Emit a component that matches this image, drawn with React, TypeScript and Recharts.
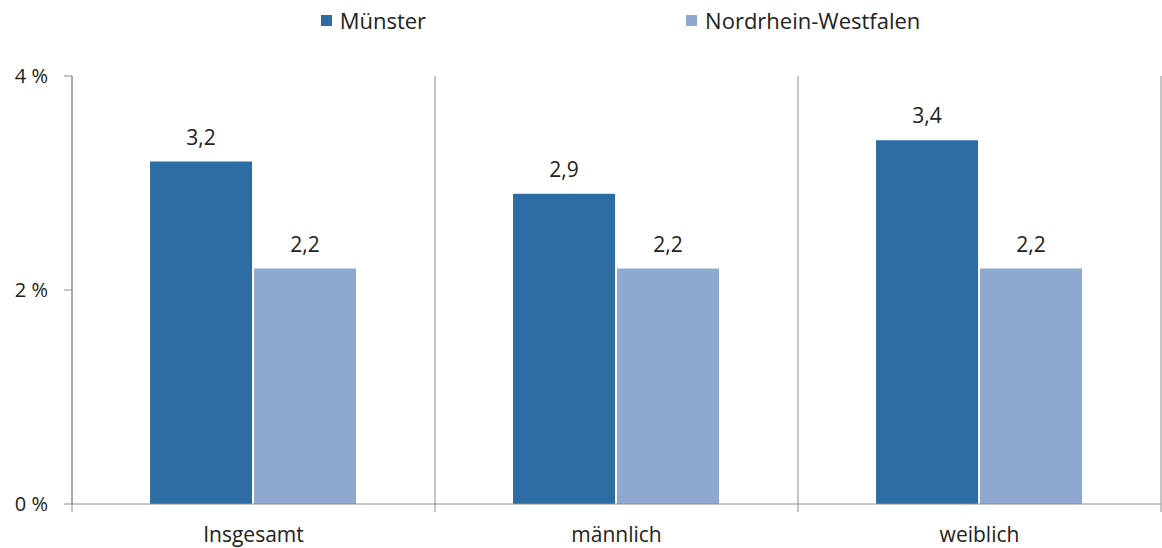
import React from "react";
import {
  BarChart,
  Bar,
  XAxis,
  YAxis,
  Legend,
  LabelList,
  ReferenceLine,
} from "recharts";

const categories = ["Insgesamt", "männlich", "weiblich"];
const muenster = [3.2, 2.9, 3.4];
const nrw = [2.2, 2.2, 2.2];
const yTicks = [0, 2, 4];
const dividers = [0, 1, 2, 3];

const data = categories.map((name, i) => ({
  name,
  slot: i + 0.5,
  muenster: muenster[i],
  nrw: nrw[i],
}));

const FONT = "'Open Sans', Lato, sans-serif";
const TEXT = "#222";
const AXIS = "#8c8c8c";
const C1 = "#2E6DA4";
const C2 = "#8FA8CF";

const fmt = (v: any) => String(v).replace(".", ",");

function renderLegend() {
  const items = [
    { label: "Münster", color: C1 },
    { label: "Nordrhein-Westfalen", color: C2 },
  ];
  return (
    <div
      style={{
        height: 76,
        display: "flex",
        justifyContent: "center",
        alignItems: "flex-start",
        paddingTop: 5,
        paddingLeft: 72,
        boxSizing: "border-box",
        fontFamily: FONT,
        fontSize: 22,
        color: TEXT,
      }}
    >
      {items.map((it, i) => (
        <div
          key={it.label}
          style={{ display: "flex", alignItems: "center", marginRight: i === 0 ? 260 : 0 }}
        >
          <span style={{ width: 11, height: 11, background: it.color, marginRight: 8 }} />
          <span>{it.label}</span>
        </div>
      ))}
    </div>
  );
}

export default function App() {
  return (
    <div style={{ position: "absolute", left: 0, top: 0, width: 1162, height: 548, background: "#fff" }}>
      <BarChart
        width={1162}
        height={548}
        data={data}
        margin={{ top: 0, right: 1, left: 8, bottom: 0 }}
        barCategoryGap="21.5%"
        barGap={2}
      >
        <Legend verticalAlign="top" content={renderLegend} />
        <XAxis
          dataKey="name"
          axisLine={{ stroke: AXIS }}
          tickLine={false}
          tickSize={0}
          tickMargin={23}
          height={44}
          tick={{ fontSize: 21, fill: TEXT, fontFamily: FONT }}
          interval={0}
        />
        <XAxis xAxisId="div" dataKey="slot" type="number" domain={[0, 3]} allowDataOverflow hide />
        <YAxis
          domain={[0, 4]}
          ticks={yTicks}
          tickFormatter={(v) => `${v} %`}
          axisLine={{ stroke: AXIS }}
          tickLine={{ stroke: AXIS }}
          tickSize={8}
          tickMargin={16}
          width={64}
          tick={{ fontSize: 20, fill: TEXT, fontFamily: FONT }}
        />
        {dividers.map((d) => (
          <ReferenceLine
            key={d}
            xAxisId="div"
            segment={[
              { x: d, y: 4 },
              { x: d, y: -0.075 },
            ]}
            stroke={AXIS}
            ifOverflow="visible"
          />
        ))}
        <Bar dataKey="muenster" name="Münster" fill={C1} isAnimationActive={false}>
          <LabelList
            dataKey="muenster"
            position="top"
            offset={17}
            formatter={fmt}
            style={{ fontSize: 21, fill: TEXT, fontFamily: FONT }}
          />
        </Bar>
        <Bar dataKey="nrw" name="Nordrhein-Westfalen" fill={C2} isAnimationActive={false}>
          <LabelList
            dataKey="nrw"
            position="top"
            offset={17}
            formatter={fmt}
            style={{ fontSize: 21, fill: TEXT, fontFamily: FONT }}
          />
        </Bar>
      </BarChart>
    </div>
  );
}
